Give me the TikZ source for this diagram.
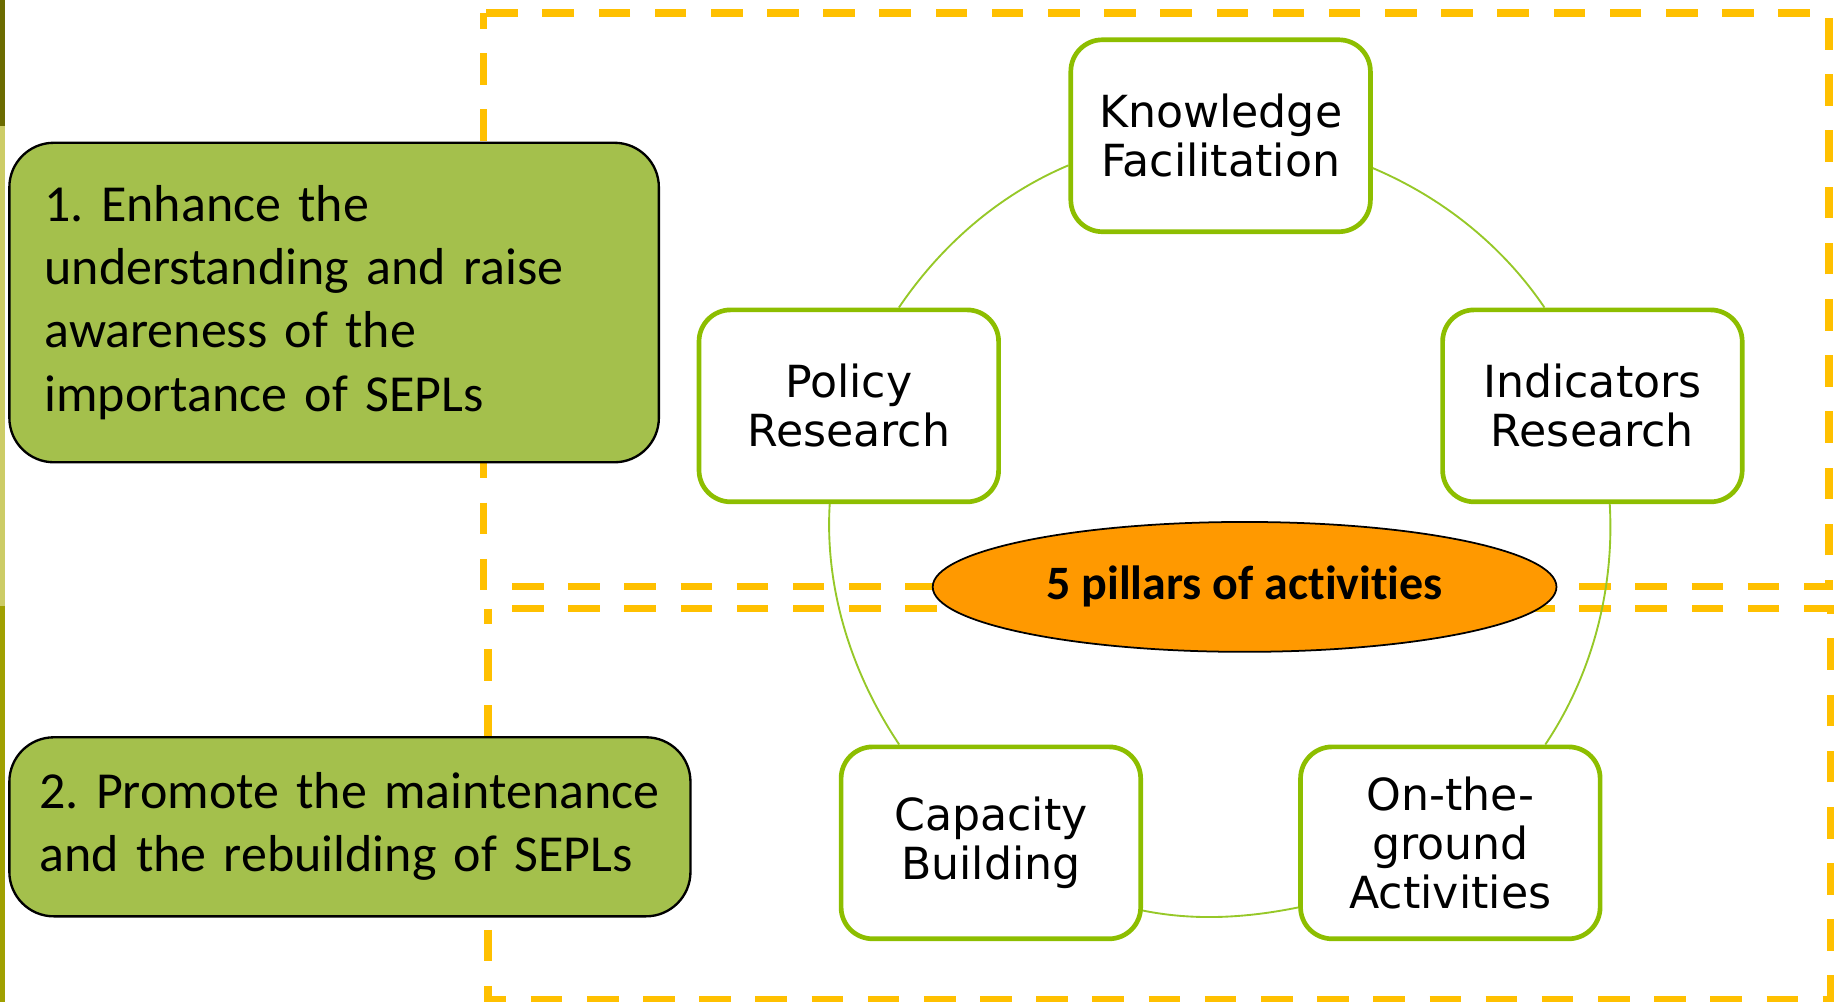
\documentclass[tikz,border=0pt]{standalone}
\usepackage{fontspec}
\setmainfont{Carlito}[Ligatures=NoCommon]
\newfontfamily\pillarfont{DejaVu Sans}
\usetikzlibrary{shapes.geometric}
\definecolor{barA}{RGB}{107,107,0}
\definecolor{barB}{RGB}{204,204,102}
\definecolor{barC}{RGB}{160,160,0}
\definecolor{dashyellow}{RGB}{255,192,0}
\definecolor{goalgreen}{RGB}{164,192,76}
\definecolor{pillargreen}{RGB}{141,190,0}
\definecolor{linkgreen}{RGB}{150,200,40}
\definecolor{hubfill}{RGB}{255,153,0}
\frenchspacing
\begin{document}
\begin{tikzpicture}[x=0.5pt,y=0.5pt,
  dashrect/.style={draw=dashyellow, line width=3.25pt, dash pattern=on 13.5pt off 10.5pt, dash phase=6.75pt},
  goalbox/.style={draw=black, line width=1pt, fill=goalgreen, rounded corners=19pt, align=left, font=\fontsize{22.2}{27}\selectfont, inner ysep=0pt},
  pillar/.style={draw=pillargreen, line width=2pt, fill=white, rounded corners=13.5pt, minimum width=128pt, minimum height=82pt, align=center, font=\pillarfont\fontsize{18.9}{21}\selectfont, inner sep=0pt},
  link/.style={draw=linkgreen, line width=0.8pt, looseness=0.87},
  hub/.style={ellipse, draw=black, line width=0.75pt, fill=hubfill, minimum width=266.5pt, minimum height=55.5pt, inner sep=0pt, font=\fontsize{20.5}{24}\selectfont\bfseries}
]
\useasboundingbox (0,0) rectangle (1568,-856);
% left side bars
\fill[barA] (0,0) rectangle (4.3,-108);
\fill[barB] (0,-108) rectangle (4.3,-518);
\fill[barC] (0,-518) rectangle (4.3,-856);
% dashed frames
\draw[dashrect] (413,-11) rectangle (1563,-501);
\draw[dashrect] (417,-520) rectangle (1564,-854);
% hub
\node[hub] (hub) at (1063.5,-501.5) {5 pillars of activities};
% pillars
\node[pillar] (kf) at (1043,-116) {Knowledge\\Facilitation};
\node[pillar] (pr) at (725.3,-346.8) {Policy\\Research};
\node[pillar] (ir) at (1360.7,-346.8) {Indicators\\Research};
\node[pillar] (cb) at (846.7,-720.2) {Capacity\\Building};
\node[pillar] (og) at (1239.3,-720.2) {On-the-\\ground\\Activities};
% goals
\node[goalbox, minimum width=277.5pt, minimum height=136.5pt, text width=247.5pt, inner xsep=15pt] (g1) at (285.5,-258.5)
  {\mbox{1. Enhance the}\\\mbox{understanding and raise}\\\mbox{awareness of the}\\\mbox{importance of SEPLs}};
\node[goalbox, minimum width=291pt, minimum height=76.5pt, text width=265.4pt, inner xsep=12.8pt] (g2) at (299,-706.5)
  {\mbox{2. Promote the maintenance}\\\mbox{and the rebuilding of SEPLs}};
% cycle connectors
\draw[link] (kf.191.4) to[out=202.9,in=55.9] (pr.63.9);
\draw[link] (pr.259.4) to[out=266.6,in=123.9] (cb.133.96);
\draw[link] (cb.336.25) to[out=348.55,in=191.45] (og.203.75);
\draw[link] (og.46.04) to[out=56.1,in=273.3] (ir.280.6);
\draw[link] (ir.116.1) to[out=124.1,in=337.1] (kf.348.6);
\end{tikzpicture}
\end{document}
